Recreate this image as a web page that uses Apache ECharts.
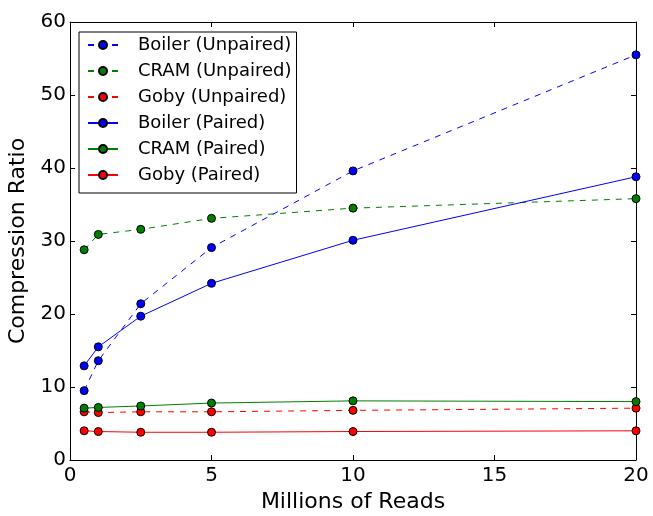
<!DOCTYPE html>
<html>
<head>
<meta charset="utf-8">
<script src="https://cdn.jsdelivr.net/npm/echarts@6/dist/echarts.min.js"></script>
<style>
  html, body { margin: 0; padding: 0; background: #fff; }
  #chart { width: 653px; height: 516px; }
</style>
</head>
<body>
<div id="chart"></div>
<script>
  // millions of reads
  const reads = [0.5, 1, 2.5, 5, 10, 20];
  const boilerUnpaired = [9.5, 13.6, 21.4, 29.1, 39.6, 55.5];
  const cramUnpaired = [28.8, 30.9, 31.6, 33.1, 34.5, 35.8];
  const gobyUnpaired = [6.6, 6.5, 6.6, 6.6, 6.8, 7.1];
  const boilerPaired = [12.9, 15.5, 19.7, 24.2, 30.1, 38.8];
  const cramPaired = [7.1, 7.2, 7.4, 7.8, 8.1, 8.0];
  const gobyPaired = [4.0, 3.9, 3.8, 3.8, 3.9, 4.0];

  const font = 'DejaVu Sans';

  function pairs(vals) {
    return reads.map((x, i) => [x, vals[i]]);
  }

  function makeSeries(name, vals, color, dashed) {
    return {
      name: name,
      type: 'line',
      data: pairs(vals),
      symbol: 'circle',
      symbolSize: 8,
      clip: false,
      itemStyle: { color: color, borderColor: '#000', borderWidth: 1 },
      lineStyle: { color: color, width: 1, type: dashed ? [6, 6] : 'solid' },
      emphasis: { disabled: true }
    };
  }

  const chart = echarts.init(document.getElementById('chart'));

  const tickAxis = {
    axisLine: { show: true, onZero: false, lineStyle: { color: '#000', width: 1 } },
    axisTick: { show: true, inside: true, length: 5, lineStyle: { color: '#000' } },
    splitLine: { show: false }
  };

  chart.setOption({
    animation: false,
    backgroundColor: '#fff',
    grid: { left: 70, right: 17, top: 22, bottom: 56, containLabel: false, outerBoundsMode: 'none' },
    legend: {
      orient: 'vertical',
      left: 79,
      top: 32,
      padding: [4, 5, 9, 8],
      itemWidth: 30,
      itemHeight: 10,
      itemGap: 8,
      backgroundColor: '#fff',
      borderColor: '#000',
      borderWidth: 1,
      borderRadius: 0,
      textStyle: { fontFamily: font, fontSize: 18, lineHeight: 18, color: '#000', padding: [0, 0, 0, 15] },
      data: ['Boiler (Unpaired)', 'CRAM (Unpaired)', 'Goby (Unpaired)', 'Boiler (Paired)', 'CRAM (Paired)', 'Goby (Paired)']
    },
    xAxis: [
      Object.assign({
        type: 'value', min: 0, max: 20, interval: 5, position: 'bottom',
        name: 'Millions of Reads', nameLocation: 'middle', nameGap: 28,
        nameTextStyle: { fontFamily: font, fontSize: 22, color: '#000' },
        axisLabel: { fontFamily: font, fontSize: 20, color: '#000', margin: 6 }
      }, tickAxis),
      Object.assign({
        type: 'value', min: 0, max: 20, interval: 5, position: 'top',
        axisLabel: { show: false }
      }, tickAxis)
    ],
    yAxis: [
      Object.assign({
        type: 'value', min: 0, max: 60, interval: 10, position: 'left',
        name: 'Compression Ratio', nameLocation: 'middle', nameGap: 37,
        nameTextStyle: { fontFamily: font, fontSize: 22, color: '#000' },
        axisLabel: { fontFamily: font, fontSize: 20, color: '#000', margin: 4 }
      }, tickAxis),
      Object.assign({
        type: 'value', min: 0, max: 60, interval: 10, position: 'right',
        axisLabel: { show: false }
      }, tickAxis)
    ],
    series: [
      makeSeries('Boiler (Unpaired)', boilerUnpaired, '#0000ff', true),
      makeSeries('CRAM (Unpaired)', cramUnpaired, '#008000', true),
      makeSeries('Goby (Unpaired)', gobyUnpaired, '#ff0000', true),
      makeSeries('Boiler (Paired)', boilerPaired, '#0000ff', false),
      makeSeries('CRAM (Paired)', cramPaired, '#008000', false),
      makeSeries('Goby (Paired)', gobyPaired, '#ff0000', false)
    ]
  });
</script>
</body>
</html>
